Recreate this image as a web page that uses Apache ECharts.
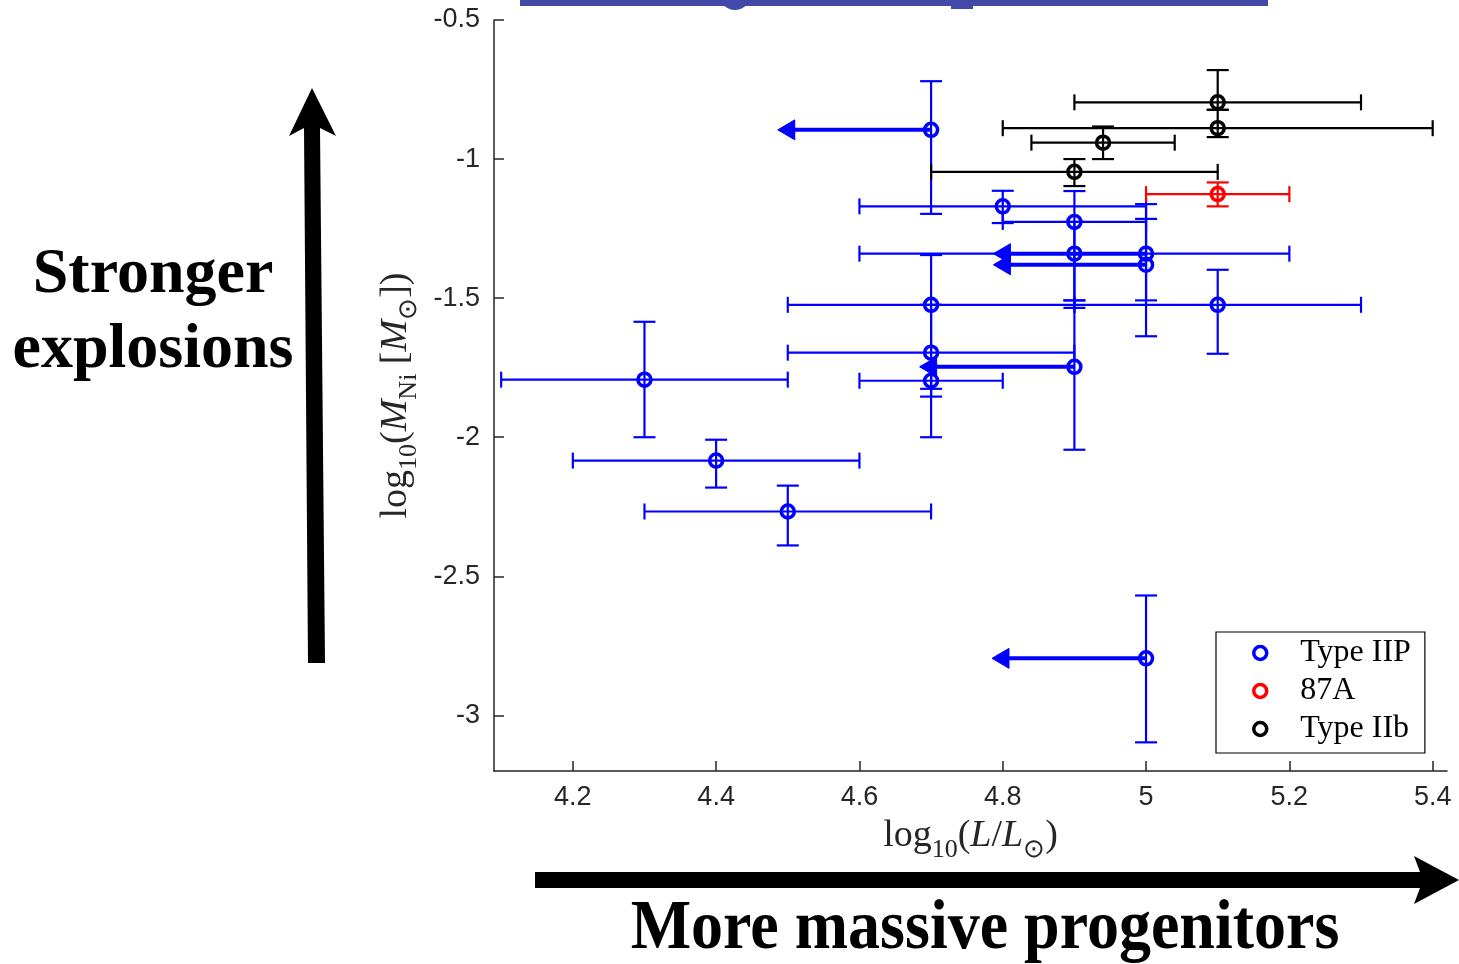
<!DOCTYPE html>
<html>
<head>
<meta charset="utf-8">
<script src="https://cdn.jsdelivr.net/npm/echarts@6/dist/echarts.min.js"></script>
<style>html,body{margin:0;padding:0;background:#fff}#c{width:1459px;height:964px}</style>
</head>
<body>
<div id="c"></div>
<script>
// ---- data ----
const xTicks = [4.2, 4.4, 4.6, 4.8, 5, 5.2, 5.4];
const yTicks = [-3, -2.5, -2, -1.5, -1, -0.5];

// Type IIP
const iipX   = [4.7, 4.8, 4.9, 4.9, 5.0, 5.0, 4.7, 5.1, 4.7, 4.7, 4.9, 4.3, 4.4, 4.5, 5.0];
const iipY   = [-0.895, -1.17, -1.226, -1.34, -1.34, -1.38, -1.524, -1.524, -1.696, -1.797, -1.747, -1.793, -2.084, -2.267, -2.795];
const iipXLo = [null, 4.6, 4.8, 4.6, null, null, 4.5, 4.9, 4.5, 4.6, null, 4.1, 4.2, 4.3, null];
const iipXHi = [null, 5.0, 5.0, 5.2, null, null, 4.9, 5.3, 4.9, 4.8, null, 4.5, 4.6, 4.7, null];
const iipYHi = [-0.72, -1.114, -1.115, -1.226, -1.162, -1.215, -1.345, -1.398, -1.524, -1.747, -1.508, -1.585, -2.009, -2.174, -2.569];
const iipYLo = [-1.197, -1.23, -1.535, -1.508, -1.508, -1.637, -1.854, -1.70, -2.0, -1.826, -2.045, -2.0, -2.181, -2.389, -3.097];

// upper limits (arrows) for Type IIP
const arrowX0 = [4.7, 5.0, 5.0, 4.9, 5.0];
const arrowY  = [-0.895, -1.34, -1.38, -1.747, -2.795];
const arrowX1 = [4.486, 4.787, 4.787, 4.684, 4.785];

// 87A
const sn87X = [5.1], sn87Y = [-1.126];
const sn87XLo = [5.0], sn87XHi = [5.2], sn87YHi = [-1.084], sn87YLo = [-1.17];

// Type IIb
const iibX   = [5.1, 5.1, 4.94, 4.9];
const iibY   = [-0.796, -0.889, -0.941, -1.046];
const iibXLo = [4.9, 4.8, 4.84, 4.7];
const iibXHi = [5.3, 5.4, 5.04, 5.1];
const iibYHi = [-0.68, -0.823, -0.883, -1.0];
const iibYLo = [-0.823, -0.921, -1.0, -1.097];

const BLUE = '#0000ff', RED = '#ff0000', BLACK = '#000000', AX = '#262626';

function errSeries(name, color, X, Y, XLo, XHi, YHi, YLo) {
  return {
    type: 'custom', name: name, silent: true,
    data: X.map((x, i) => [x, Y[i]]),
    encode: {x: 0, y: 1},
    renderItem: function (params, api) {
      const i = params.dataIndex;
      const ch = [];
      const st = {stroke: color, lineWidth: 2.2, fill: null};
      const capW = 11, capH = 8;
      if (XLo[i] != null) {
        const a = api.coord([XLo[i], Y[i]]), b = api.coord([XHi[i], Y[i]]);
        ch.push({type: 'line', shape: {x1: a[0], y1: a[1], x2: b[0], y2: b[1]}, style: st});
        ch.push({type: 'line', shape: {x1: a[0], y1: a[1] - capH, x2: a[0], y2: a[1] + capH}, style: st});
        ch.push({type: 'line', shape: {x1: b[0], y1: b[1] - capH, x2: b[0], y2: b[1] + capH}, style: st});
      }
      if (YLo[i] != null) {
        const a = api.coord([X[i], YHi[i]]), b = api.coord([X[i], YLo[i]]);
        ch.push({type: 'line', shape: {x1: a[0], y1: a[1], x2: b[0], y2: b[1]}, style: st});
        ch.push({type: 'line', shape: {x1: a[0] - capW, y1: a[1], x2: a[0] + capW, y2: a[1]}, style: st});
        ch.push({type: 'line', shape: {x1: b[0] - capW, y1: b[1], x2: b[0] + capW, y2: b[1]}, style: st});
      }
      return {type: 'group', children: ch};
    },
    z: 2
  };
}

const arrowSeries = {
  type: 'custom', name: 'limits', silent: true,
  data: arrowX0.map((x, i) => [x, arrowY[i]]),
  encode: {x: 0, y: 1},
  renderItem: function (params, api) {
    const i = params.dataIndex;
    const s = api.coord([arrowX0[i], arrowY[i]]);
    const t = api.coord([arrowX1[i], arrowY[i]]);
    const hl = 17, hh = 10;
    return {type: 'group', children: [
      {type: 'line', shape: {x1: s[0], y1: s[1], x2: t[0] + hl - 2, y2: t[1]}, style: {stroke: BLUE, lineWidth: 4}},
      {type: 'polygon', shape: {points: [[t[0], t[1]], [t[0] + hl, t[1] - hh], [t[0] + hl, t[1] + hh]]},
        style: {fill: BLUE, stroke: BLUE, lineWidth: 1}}
    ]};
  },
  z: 3
};

function markSeries(name, color, X, Y) {
  return {
    type: 'scatter', name: name,
    data: X.map((x, i) => [x, Y[i]]),
    symbol: 'circle', symbolSize: 13,
    itemStyle: {color: 'rgba(255,255,255,0)', borderColor: color, borderWidth: 3.5, opacity: 1},
    emphasis: {disabled: true},
    z: 4
  };
}

const rich = {
  a: {fontFamily: 'Liberation Serif', fontSize: 38, color: AX, verticalAlign: 'bottom', padding: [0, 0, 8, 0]},
  i: {fontFamily: 'Liberation Serif', fontStyle: 'italic', fontSize: 38, color: AX, verticalAlign: 'bottom', padding: [0, 0, 8, 0]},
  s: {fontFamily: 'Liberation Serif', fontSize: 26, color: AX, verticalAlign: 'bottom', padding: [0, 0, 0, 0]}
};

const chart = echarts.init(document.getElementById('c'), null, {renderer: 'canvas'});
chart.setOption({
  backgroundColor: '#ffffff',
  animation: false,
  grid: {left: 494, right: 12, top: 20, bottom: 193, containLabel: false, outerBoundsMode: 'none'},
  xAxis: {
    type: 'value', min: 4.09, max: 5.42,
    splitLine: {show: false},
    axisLine: {onZero: false, lineStyle: {color: AX, width: 1.5}},
    axisTick: {inside: true, length: 10, customValues: xTicks, lineStyle: {color: AX, width: 1.5}},
    axisLabel: {customValues: xTicks, margin: 13, fontSize: 27, color: AX, fontFamily: 'Liberation Sans', formatter: v => String(v)},
    name: '{a|log}{s|10}{a|(}{i|L}{a|/}{i|L}{s|⊙}{a|)}',
    nameLocation: 'middle', nameGap: 46,
    nameTextStyle: {rich: rich}
  },
  yAxis: {
    type: 'value', min: -3.2, max: -0.5,
    splitLine: {show: false},
    axisLine: {onZero: false, lineStyle: {color: AX, width: 1.5}},
    axisTick: {inside: true, length: 10, customValues: yTicks, lineStyle: {color: AX, width: 1.5}},
    axisLabel: {customValues: yTicks, margin: 14, fontSize: 27, color: AX, fontFamily: 'Liberation Sans', formatter: v => String(v)},
    name: '{a|log}{s|10}{a|(}{i|M}{s|Ni}{a| [}{i|M}{s|⊙}{a|])}',
    nameLocation: 'middle', nameGap: 70, nameRotate: 90,
    nameTextStyle: {rich: rich}
  },
  legend: {
    data: ['Type IIP', '87A', 'Type IIb'],
    orient: 'vertical', left: 1216, top: 632,
    backgroundColor: '#fff', borderColor: '#000', borderWidth: 1.2,
    padding: [5, 14, 8, 36],
    itemWidth: 70, itemHeight: 13, itemGap: 6,
    itemStyle: {borderWidth: 3.5},
    textStyle: {fontFamily: 'Liberation Serif', fontSize: 32, color: '#000', lineHeight: 28},
    selectedMode: false
  },
  series: [
    errSeries('eIIP', BLUE, iipX, iipY, iipXLo, iipXHi, iipYHi, iipYLo),
    errSeries('e87A', RED, sn87X, sn87Y, sn87XLo, sn87XHi, sn87YHi, sn87YLo),
    errSeries('eIIb', BLACK, iibX, iibY, iibXLo, iibXHi, iibYHi, iibYLo),
    arrowSeries,
    markSeries('Type IIP', BLUE, iipX, iipY),
    markSeries('87A', RED, sn87X, sn87Y),
    markSeries('Type IIb', BLACK, iibX, iibY)
  ],
  graphic: [
    // cropped banner at top
    {type: 'rect', shape: {x: 520, y: 0, width: 748, height: 6}, style: {fill: '#4349a9'}, z: 10},
    {type: 'circle', shape: {cx: 735, cy: -6, r: 16}, style: {fill: '#4349a9'}, z: 10},
    {type: 'rect', shape: {x: 951, y: 5, width: 22, height: 4}, style: {fill: '#4349a9'}, z: 10},
    // vertical arrow
    {type: 'polygon', shape: {points: [[308, 663], [325, 663], [320, 128], [336, 136], [312, 88], [289, 136], [304, 128]]},
      style: {fill: '#000'}, z: 10},
    {type: 'text', style: {text: 'Stronger\nexplosions', x: 153, y: 313, align: 'center', verticalAlign: 'middle',
      font: 'bold 64px "Liberation Serif"', lineHeight: 75, fill: '#000'}, z: 10},
    // horizontal arrow
    {type: 'polygon', shape: {points: [[535, 872], [1420, 872], [1414, 856], [1459, 880], [1414, 904], [1420, 888], [535, 888]]},
      style: {fill: '#000'}, z: 10},
    {type: 'text', x: 985, y: 930, scaleY: 1.08,
      style: {text: 'More massive progenitors', x: 0, y: 0, align: 'center', verticalAlign: 'middle',
      font: 'bold 64px "Liberation Serif"', fill: '#000'}, z: 10}
  ]
});
</script>
</body>
</html>
